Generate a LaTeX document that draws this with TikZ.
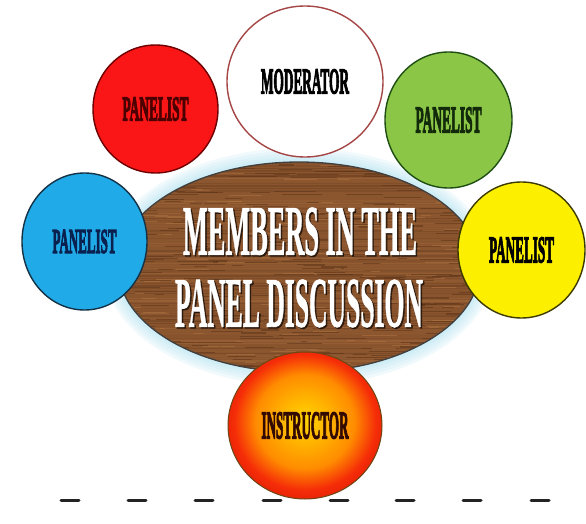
\documentclass[tikz,border=0pt]{standalone}
\usepackage{fontspec}
\setmainfont{Liberation Serif}
\newfontfamily\heavyfont{Liberation Serif}[BoldFeatures={FakeBold=4}]
\newfontfamily\titlefont{Liberation Serif}[BoldFeatures={FakeBold=1.2}]
\usetikzlibrary{shapes.geometric}
\definecolor{woodBase}{RGB}{138,84,46}
\definecolor{woodDark}{RGB}{92,52,24}
\definecolor{woodLight}{RGB}{178,118,66}
\definecolor{redFill}{RGB}{250,22,22}
\definecolor{redLine}{RGB}{110,0,0}
\definecolor{redText}{RGB}{75,0,0}
\definecolor{greenFill}{RGB}{140,198,70}
\definecolor{greenLine}{RGB}{30,78,20}
\definecolor{greenText}{RGB}{18,42,10}
\definecolor{blueFill}{RGB}{32,170,232}
\definecolor{blueLine}{RGB}{20,50,70}
\definecolor{blueText}{RGB}{10,32,78}
\definecolor{yellowFill}{RGB}{252,240,0}
\definecolor{yellowLine}{RGB}{60,58,0}
\definecolor{modLine}{RGB}{165,70,70}
\definecolor{instrLine}{RGB}{110,70,20}
\definecolor{instrText}{RGB}{50,10,0}
\definecolor{glowC}{RGB}{190,232,245}
\definecolor{dashC}{RGB}{35,35,35}
\definecolor{shadeY}{RGB}{255,212,0}
\definecolor{shadeO}{RGB}{255,140,0}
\definecolor{shadeR}{RGB}{245,45,8}
\definecolor{shadeE}{RGB}{222,25,5}
\pgfdeclareradialshading{instrshade}{\pgfpoint{0bp}{2bp}}{color(0bp)=(shadeY); color(7bp)=(shadeY!60!shadeO); color(16bp)=(shadeO); color(23bp)=(shadeR); color(29bp)=(shadeE); color(50bp)=(shadeE)}
\newcommand{\mylbl}[3]{\resizebox{#1pt}{#2pt}{\heavyfont\bfseries #3}}
\newcommand{\mytitle}[3]{\resizebox{#1pt}{#2pt}{\titlefont\bfseries #3}}
\tikzset{
  member/.style={ellipse, inner sep=0pt, line width=1.4pt},
  dashmark/.style={draw=dashC, line width=3pt, line cap=round},
  woodgrain/.style={line width=1.7pt},
}
\begin{document}
\begin{tikzpicture}[x=1pt,y=-1pt]
\useasboundingbox (0,0) rectangle (586,524);
\fill[white] (0,0) rectangle (586,524);
% glow around the board
\foreach \g in {14,11,8,5,3}{
  \fill[glowC, opacity=0.22] (299,267) ellipse [x radius=181+\g, y radius=105+\g];
}
% wooden board
\node[ellipse, minimum width=362pt, minimum height=210pt, fill=woodBase, inner sep=0pt] (board) at (299,267) {};
\begin{scope}
  \clip (299,267) ellipse [x radius=181, y radius=105];
  \pgfmathsetseed{17}
  \foreach \r in {0,...,86}{
    \pgfmathsetmacro\yy{161+\r*2.5}
    \pgfmathsetmacro\cc{int(random(15,85))}
    \draw[woodgrain, woodDark!\cc!woodLight, opacity=0.55] (116,\yy) -- (482,\yy);
  }
  \foreach \k in {1,...,320}{
    \pgfmathsetmacro\xa{116+rnd*366}
    \pgfmathsetmacro\ya{161+rnd*212}
    \pgfmathsetmacro\ll{8+rnd*40}
    \draw[line width=1.1pt, woodDark, opacity=0.55] (\xa,\ya) -- (\xa+\ll,\ya);
  }
  \foreach \k in {1,...,160}{
    \pgfmathsetmacro\xa{116+rnd*366}
    \pgfmathsetmacro\ya{161+rnd*212}
    \pgfmathsetmacro\ll{6+rnd*30}
    \draw[line width=1pt, woodLight, opacity=0.5] (\xa,\ya) -- (\xa+\ll,\ya);
  }
\end{scope}
\draw[line width=1.3pt, black!75] (299,267) ellipse [x radius=181, y radius=105];
% title
\node[inner sep=0pt, text=black, opacity=0.6] at (301.5,233) {\mytitle{234}{47}{MEMBERS IN THE}};
\node[inner sep=0pt, text=white] (title1) at (300,231.5) {\mytitle{234}{47}{MEMBERS IN THE}};
\node[inner sep=0pt, text=black, opacity=0.6] at (300.5,305) {\mytitle{248}{47}{PANEL DISCUSSION}};
\node[inner sep=0pt, text=white] (title2) at (299,303.5) {\mytitle{248}{47}{PANEL DISCUSSION}};
% dashes
\foreach \x in {70,137,204,272,339,405,472,540}{
  \draw[dashmark] (\x-9,500) -- (\x+9,500);
}
% members
\node[member, minimum width=156pt, minimum height=151pt, fill=white, draw=modLine] (moderator) at (305,81.5) {\mylbl{88}{24}{MODERATOR}};
\node[member, minimum width=125pt, minimum height=128pt, fill=redFill, draw=redLine, text=redText] (pred) at (155.5,109) {\mylbl{66}{23}{PANELIST}};
\node[member, minimum width=127pt, minimum height=136pt, fill=greenFill, draw=greenLine, text=greenText] (pgreen) at (448.5,120) {\mylbl{66}{25}{PANELIST}};
\node[member, minimum width=125pt, minimum height=137pt, fill=blueFill, draw=blueLine, text=blueText] (pblue) at (84.5,241.5) {\mylbl{64}{23}{PANELIST}};
\node[member, minimum width=127pt, minimum height=136pt, fill=yellowFill, draw=yellowLine, text=black] (pyellow) at (521.5,250) {\mylbl{65}{25}{PANELIST}};
\node[member, minimum width=154pt, minimum height=147pt, shading=instrshade, draw=instrLine, line width=1pt, text=instrText] (instructor) at (305,425.5) {\mylbl{87}{26}{INSTRUCTOR}};
\end{tikzpicture}
\end{document}
